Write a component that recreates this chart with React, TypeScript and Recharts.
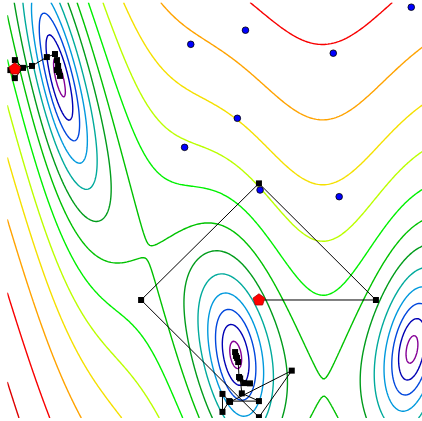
import React from 'react';
import { ComposedChart, Line, Scatter, XAxis, YAxis } from 'recharts';

// Branin test function, drawn on x in [-5, 10], y in [0, 15]
const BRANIN_A = 1;
const BRANIN_B = 5.1 / (4 * Math.PI * Math.PI);
const BRANIN_C = 5 / Math.PI;
const BRANIN_R = 6;
const BRANIN_S = 10;
const BRANIN_T = 1 / (8 * Math.PI);

const xRange: [number, number] = [-5, 10];
const yRange: [number, number] = [0, 15];

// contour levels and their colours
const levels = [0.616, 1.47, 2.78, 4.78, 7.85, 12.6, 19.7, 30.7, 47.5, 73.2, 113, 173, 265];
const levelColors = [
  '#850096', '#0000b4', '#0047dd', '#0099dd', '#00aa9c', '#009c1b', '#00c200',
  '#00f100', '#bbff00', '#f5e000', '#ffa300', '#f80000', '#dd0000',
];

// evaluated sample points
const samplePoints = [
  { x: 1.54, y: 13.49 },
  { x: 3.49, y: 14.0 },
  { x: 6.62, y: 13.17 },
  { x: 9.4, y: 14.83 },
  { x: 3.2, y: 10.82 },
  { x: 1.32, y: 9.77 },
  { x: 4.01, y: 8.23 },
  { x: 6.83, y: 7.99 },
];

// search runs
const startPoints = [
  { x: -4.73, y: 12.6 },
  { x: 3.97, y: 4.26 },
];

const runA = [
  { x: -4.73, y: 12.6 },
  { x: -4.73, y: 12.92 },
  { x: -4.44, y: 12.64 },
  { x: -4.73, y: 12.27 },
  { x: -4.9, y: 12.56 },
  { x: -4.12, y: 12.71 },
  { x: -3.59, y: 13.03 },
  { x: -3.3, y: 13.14 },
  { x: -3.23, y: 12.92 },
  { x: -3.19, y: 12.71 },
  { x: -3.16, y: 12.49 },
  { x: -3.12, y: 12.35 },
  { x: -3.23, y: 12.56 },
];

const runB = [
  { x: 3.97, y: 4.26 },
  { x: 8.14, y: 4.26 },
  { x: 3.97, y: 8.47 },
  { x: -0.23, y: 4.26 },
  { x: 3.97, y: 0.03 },
  { x: 5.14, y: 1.71 },
  { x: 2.94, y: 0.58 },
  { x: 2.67, y: 0.87 },
  { x: 2.67, y: 0.22 },
  { x: 2.91, y: 0.61 },
  { x: 3.97, y: 0.61 },
  { x: 3.36, y: 0.89 },
  { x: 3.3, y: 1.43 },
  { x: 3.65, y: 1.25 },
  { x: 3.44, y: 1.26 },
  { x: 3.26, y: 1.48 },
  { x: 3.23, y: 2.02 },
  { x: 3.15, y: 2.24 },
  { x: 3.12, y: 2.38 },
  { x: 3.19, y: 2.17 },
];

type Pt = { x: number; y: number };

const branin = (x: number, y: number) => {
  const t = y - BRANIN_B * x * x + BRANIN_C * x - BRANIN_R;
  return BRANIN_A * t * t + BRANIN_S * (1 - BRANIN_T) * Math.cos(x) + BRANIN_S;
};

const GRID = 260;

// marching squares, segments joined into polylines
const buildContours = () => {
  const n = GRID;
  const W = n + 1;
  const dx = (xRange[1] - xRange[0]) / n;
  const dy = (yRange[1] - yRange[0]) / n;
  const xs = Array.from({ length: W }, (_, i) => xRange[0] + i * dx);
  const ys = Array.from({ length: W }, (_, j) => yRange[0] + j * dy);
  const v = ys.map(y => xs.map(x => branin(x, y)));

  const result: { color: string; pts: Pt[] }[] = [];

  levels.forEach((L, li) => {
    const adj = new Map<number, number[]>();
    const hId = (i: number, j: number) => 2 * (j * W + i);
    const vId = (i: number, j: number) => 2 * (j * W + i) + 1;

    const pointOf = (id: number): Pt => {
      const k = id >> 1;
      const i = k % W;
      const j = Math.floor(k / W);
      if ((id & 1) === 0) {
        const t = (L - v[j][i]) / (v[j][i + 1] - v[j][i]);
        return { x: xs[i] + t * dx, y: ys[j] };
      }
      const t = (L - v[j][i]) / (v[j + 1][i] - v[j][i]);
      return { x: xs[i], y: ys[j] + t * dy };
    };

    const link = (p: number, q: number) => {
      if (!adj.has(p)) adj.set(p, []);
      if (!adj.has(q)) adj.set(q, []);
      adj.get(p)!.push(q);
      adj.get(q)!.push(p);
    };

    for (let j = 0; j < n; j++) {
      for (let i = 0; i < n; i++) {
        const a = v[j][i], b = v[j][i + 1], c = v[j + 1][i + 1], d = v[j + 1][i];
        const A = a > L, B = b > L, C = c > L, D = d > L;
        const e0 = hId(i, j), e1 = vId(i + 1, j), e2 = hId(i, j + 1), e3 = vId(i, j);
        const cross: number[] = [];
        if (A !== B) cross.push(e0);
        if (B !== C) cross.push(e1);
        if (C !== D) cross.push(e2);
        if (A !== D) cross.push(e3);
        if (cross.length === 2) link(cross[0], cross[1]);
        else if (cross.length === 4) {
          const center = (a + b + c + d) / 4 > L;
          if (center === A) {
            link(e0, e1);
            link(e2, e3);
          } else {
            link(e0, e3);
            link(e1, e2);
          }
        }
      }
    }

    const visited = new Set<number>();
    const walk = (start: number) => {
      const path = [start];
      visited.add(start);
      let cur = start;
      for (;;) {
        const next = (adj.get(cur) || []).find(q => !visited.has(q));
        if (next === undefined) {
          if (path.length > 2 && (adj.get(cur) || []).includes(start)) path.push(start);
          break;
        }
        visited.add(next);
        path.push(next);
        cur = next;
      }
      return path.map(pointOf);
    };

    adj.forEach((nb, id) => {
      if (nb.length === 1 && !visited.has(id)) result.push({ color: levelColors[li], pts: walk(id) });
    });
    adj.forEach((_, id) => {
      if (!visited.has(id)) result.push({ color: levelColors[li], pts: walk(id) });
    });
  });

  return result;
};

const contours = buildContours();

const SquareDot = (props: any) => {
  const { cx, cy } = props;
  if (cx == null || cy == null) return null;
  return <rect x={cx - 3} y={cy - 3} width={6} height={6} fill="#000" />;
};

const BlueDot = (props: any) => {
  const { cx, cy } = props;
  if (cx == null || cy == null) return null;
  return <circle cx={cx} cy={cy} r={3.3} fill="#0000ff" stroke="#000" strokeWidth={0.8} />;
};

const Pentagon = (props: any) => {
  const { cx, cy } = props;
  if (cx == null || cy == null) return null;
  const r = 6.2;
  const pts = Array.from({ length: 5 }, (_, k) => {
    const ang = -Math.PI / 2 + (k * 2 * Math.PI) / 5;
    return `${cx + r * Math.cos(ang)},${cy + r * Math.sin(ang)}`;
  }).join(' ');
  return <polygon points={pts} fill="#ff0000" stroke="#b00000" strokeWidth={0.8} />;
};

export default function App() {
  return (
    <div
      style={{
        position: 'fixed',
        left: 0,
        top: 0,
        width: 422,
        height: 421,
        overflow: 'hidden',
        background: '#fff',
      }}
    >
      <ComposedChart
        width={430}
        height={421}
        margin={{ top: 2.5, right: 1.9, bottom: 3, left: 7.3 }}
      >
        <XAxis
          type="number"
          dataKey="x"
          domain={xRange}
          allowDataOverflow
          tick={false}
          tickLine={false}
          height={0}
          axisLine={{ stroke: '#000', strokeWidth: 1.4 }}
        />
        <YAxis
          type="number"
          dataKey="y"
          domain={yRange}
          allowDataOverflow
          tick={false}
          tickLine={false}
          width={0}
          axisLine={{ stroke: '#000', strokeWidth: 1.4 }}
        />
        {contours.map((c, idx) => (
          <Line
            key={'c' + idx}
            data={c.pts}
            dataKey="y"
            stroke={c.color}
            strokeWidth={1.4}
            dot={false}
            activeDot={false}
            isAnimationActive={false}
          />
        ))}
        <Scatter
          data={runA}
          line={{ stroke: '#000', strokeWidth: 1 }}
          lineType="joint"
          shape={<SquareDot />}
          isAnimationActive={false}
        />
        <Scatter
          data={runB}
          line={{ stroke: '#000', strokeWidth: 1 }}
          lineType="joint"
          shape={<SquareDot />}
          isAnimationActive={false}
        />
        <Scatter data={samplePoints} shape={<BlueDot />} isAnimationActive={false} />
        <Scatter data={startPoints} shape={<Pentagon />} isAnimationActive={false} />
      </ComposedChart>
    </div>
  );
}
